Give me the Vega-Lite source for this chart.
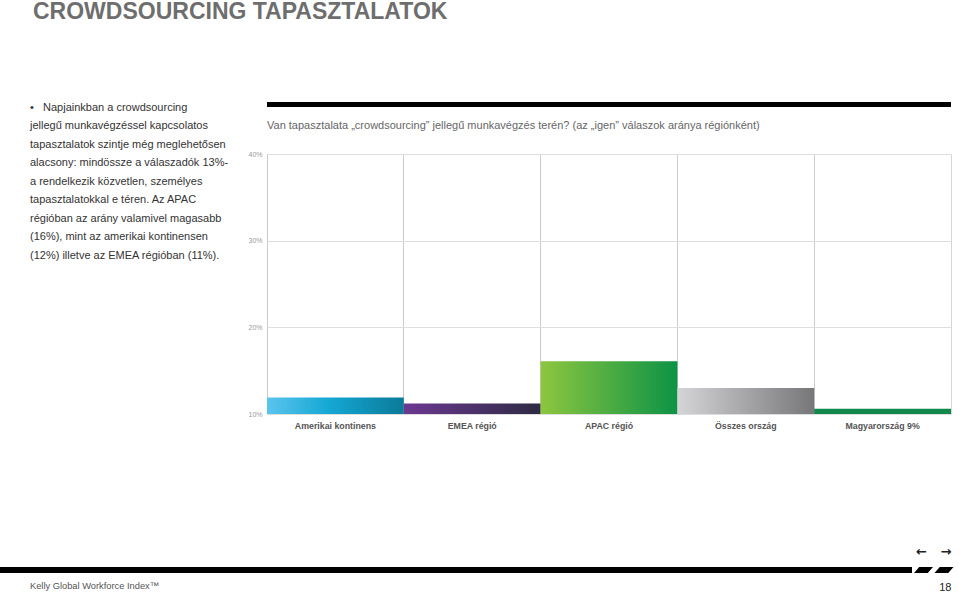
{
  "$schema": "https://vega.github.io/schema/vega-lite/v6.json",
  "padding": 0,
  "background": "white",
  "config": {
    "font": "Liberation Sans",
    "view": {"stroke": null},
    "axis": {"labelFont": "Liberation Sans", "titleFont": "Liberation Sans"}
  },
  "title": {
    "text": "CROWDSOURCING TAPASZTALATOK",
    "anchor": "start",
    "dx": 33,
    "fontSize": 23,
    "fontWeight": "bold",
    "color": "#6e6e6e",
    "offset": 78
  },
  "spacing": 114,
  "vconcat": [
    {
      "spacing": 17,
      "hconcat": [
        {
          "width": 230,
          "height": {"step": 18.5},
          "data": {"values": [
            {"line": 0, "text": "•\u00a0\u00a0\u00a0Napjainkban a crowdsourcing"},
            {"line": 1, "text": "jellegű munkavégzéssel kapcsolatos"},
            {"line": 2, "text": "tapasztalatok szintje még meglehetősen"},
            {"line": 3, "text": "alacsony: mindössze a válaszadók 13%-"},
            {"line": 4, "text": "a rendelkezik közvetlen, személyes"},
            {"line": 5, "text": "tapasztalatokkal e téren. Az APAC"},
            {"line": 6, "text": "régióban az arány valamivel magasabb"},
            {"line": 7, "text": "(16%), mint az amerikai kontinensen"},
            {"line": 8, "text": "(12%) illetve az EMEA régióban (11%)."}
          ]},
          "mark": {"type": "text", "align": "left", "baseline": "middle", "dx": 30, "fontSize": 11, "color": "#333333"},
          "encoding": {
            "x": {"datum": 0, "type": "quantitative", "scale": {"domain": [0, 1]}, "axis": null},
            "y": {"field": "line", "type": "ordinal", "scale": {"type": "point", "padding": 0.3}, "axis": null},
            "text": {"field": "text"}
          }
        },
        {
          "bounds": "flush",
          "spacing": 47,
          "vconcat": [
            {
              "width": 684,
              "height": 5,
              "data": {"values": []},
              "mark": "point",
              "view": {"fill": "#000000", "stroke": null}
            },
            {
              "width": 684,
              "height": 260,
              "title": {
                "text": "Van tapasztalata „crowdsourcing” jellegű munkavégzés terén? (az „igen” válaszok aránya régiónként)",
                "anchor": "start",
                "frame": "group",
                "fontSize": 11,
                "fontWeight": "normal",
                "color": "#666666",
                "offset": 19
              },
              "view": {"stroke": "#d6d6d6", "strokeWidth": 1},
              "data": {"values": [
                {"region": "Amerikai kontinens", "share": 0.119},
                {"region": "EMEA régió", "share": 0.112},
                {"region": "APAC régió", "share": 0.161},
                {"region": "Összes ország", "share": 0.130},
                {"region": "Magyarország 9%", "share": 0.106}
              ]},
              "encoding": {
                "x": {
                  "field": "region", "type": "nominal", "sort": null,
                  "scale": {"paddingInner": 0, "paddingOuter": 0},
                  "axis": {"title": null, "labelAngle": 0, "labelFontSize": 8.8, "labelFontWeight": "bold", "labelColor": "#555555", "labelPadding": 7, "ticks": false, "tickSize": 0, "domain": false, "grid": true, "gridColor": "#cccccc", "bandPosition": 0}
                },
                "y": {
                  "field": "share", "type": "quantitative",
                  "scale": {"domain": [0.1, 0.4], "zero": false, "nice": false},
                  "axis": {"title": null, "values": [0.1, 0.2, 0.3, 0.4], "format": ".0%", "labelFontSize": 7, "labelColor": "#999999", "labelPadding": 5, "ticks": false, "tickSize": 0, "domain": false, "grid": true, "gridColor": "#dedede"}
                },
                "y2": {"datum": 0.1}
              },
              "layer": [
                {
                  "transform": [{"filter": "datum.region === 'Amerikai kontinens'"}],
                  "mark": {"type": "bar", "fill": {"gradient": "linear", "x1": 0, "y1": 0, "x2": 1, "y2": 0, "stops": [{"offset": 0, "color": "#5bc4ee"}, {"offset": 0.45, "color": "#14a8d4"}, {"offset": 1, "color": "#0b7a99"}]}}
                },
                {
                  "transform": [{"filter": "datum.region === 'EMEA régió'"}],
                  "mark": {"type": "bar", "fill": {"gradient": "linear", "x1": 0, "y1": 0, "x2": 1, "y2": 0, "stops": [{"offset": 0, "color": "#6c3891"}, {"offset": 1, "color": "#2d2b44"}]}}
                },
                {
                  "transform": [{"filter": "datum.region === 'APAC régió'"}],
                  "mark": {"type": "bar", "fill": {"gradient": "linear", "x1": 0, "y1": 0, "x2": 1, "y2": 0, "stops": [{"offset": 0, "color": "#8dc63f"}, {"offset": 1, "color": "#0d9346"}]}}
                },
                {
                  "transform": [{"filter": "datum.region === 'Összes ország'"}],
                  "mark": {"type": "bar", "fill": {"gradient": "linear", "x1": 0, "y1": 0, "x2": 1, "y2": 0, "stops": [{"offset": 0, "color": "#d5d5d7"}, {"offset": 1, "color": "#77777a"}]}}
                },
                {
                  "transform": [{"filter": "datum.region === 'Magyarország 9%'"}],
                  "mark": {"type": "bar", "fill": "#12894a"}
                }
              ]
            }
          ]
        }
      ]
    },
    {
      "bounds": "flush",
      "spacing": 0,
      "hconcat": [
        {
          "width": 912,
          "height": 6,
          "data": {"values": []},
          "mark": "point",
          "view": {"fill": "#000000", "stroke": null},
          "title": {
            "text": "Kelly Global Workforce Index™",
            "orient": "bottom",
            "anchor": "start",
            "dx": 30,
            "fontSize": 9.3,
            "font": "Liberation Sans",
            "fontWeight": "normal",
            "color": "#555555",
            "offset": 9
          }
        },
        {
          "width": 43.5,
          "height": 6,
          "data": {"values": [{"seg": "a"}, {"seg": "b"}]},
          "title": {
            "text": "←\u00a0\u00a0\u00a0→",
            "orient": "top",
            "anchor": "middle",
            "fontSize": 13,
            "font": "DejaVu Sans",
            "fontWeight": "bold",
            "color": "#222222",
            "offset": 8
          },
          "mark": {"type": "point", "filled": true, "color": "#000000", "opacity": 1, "size": 361, "shape": "M -1 0.32 L -0.45 -0.32 L 1 -0.32 L 0.45 0.32 Z"},
          "encoding": {
            "x": {
              "field": "seg", "type": "nominal",
              "scale": {"type": "point", "padding": 0.56},
              "axis": {"title": "18", "labels": false, "ticks": false, "domain": false, "grid": false, "titleFontSize": 11, "titleColor": "#222222", "titleFontWeight": "normal", "titleX": 39, "titleAlign": "right", "titlePadding": 8}
            }
          }
        }
      ]
    }
  ]
}
